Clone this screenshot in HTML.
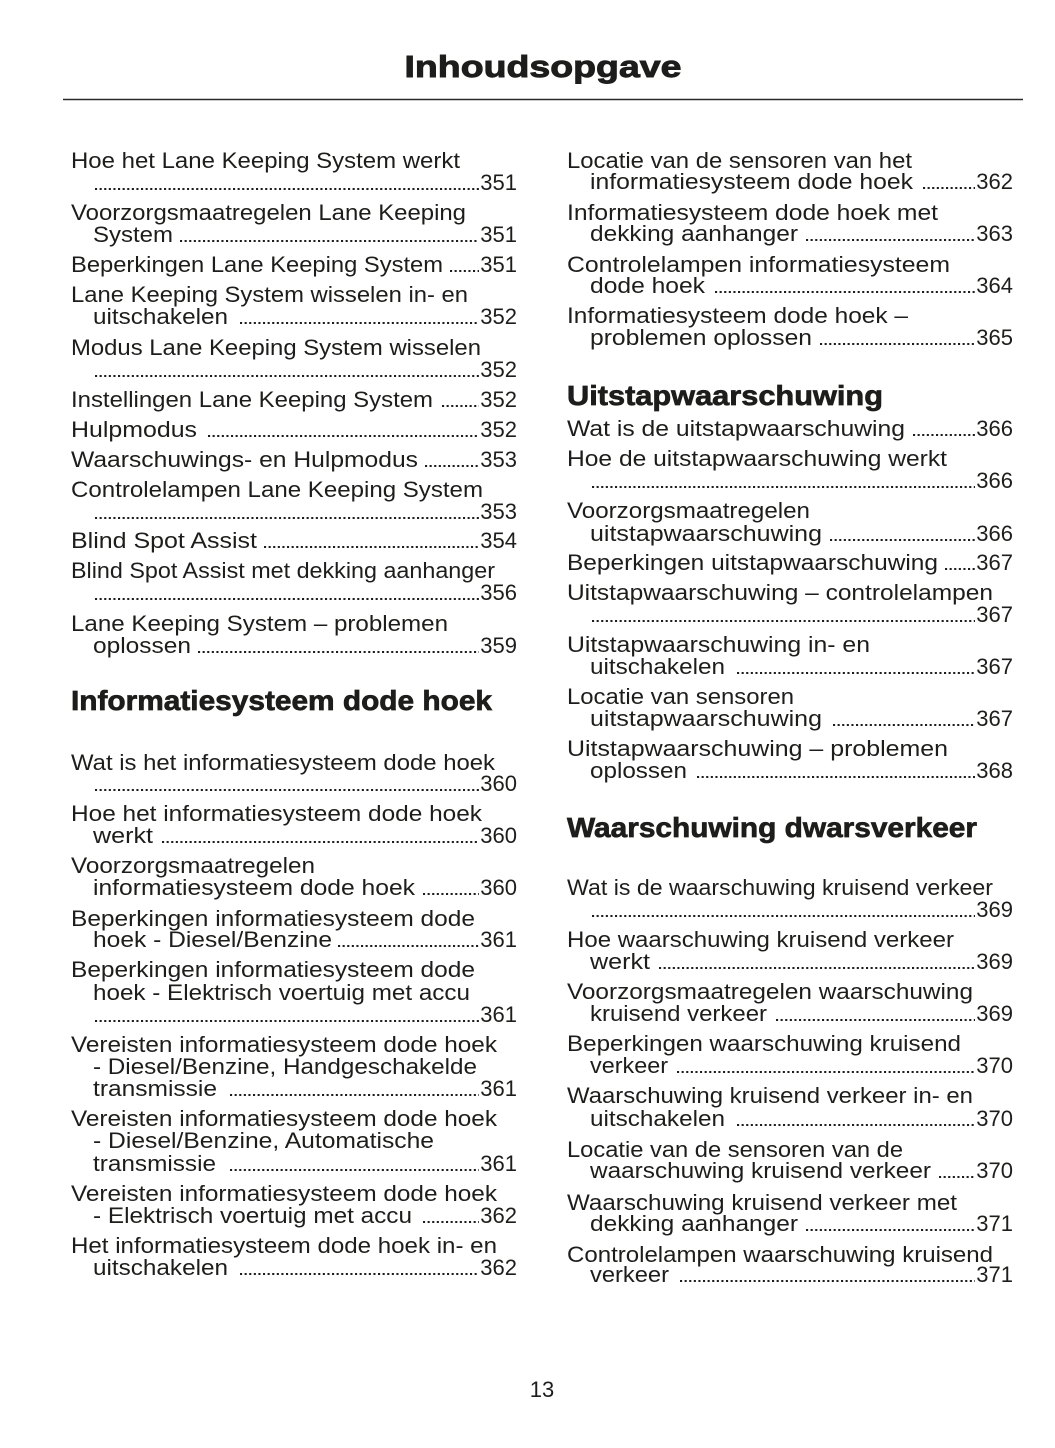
<!DOCTYPE html>
<html>
<head>
<meta charset="utf-8">
<style>
html,body{margin:0;padding:0;background:#fff;}
svg{display:block;}
text{font-family:"Liberation Sans",sans-serif;fill:#1d1d1b;}
.t{font-size:22px;}
.n{font-size:22px;text-anchor:end;}
.h{font-size:28px;font-weight:bold;stroke:#1d1d1b;stroke-width:0.7px;}
.d{stroke:#1d1d1b;stroke-width:2.1;stroke-dasharray:2.1 2.5;}
</style>
</head>
<body>
<svg width="1055" height="1448" viewBox="0 0 1055 1448" xmlns="http://www.w3.org/2000/svg">
<text x="543" y="77" text-anchor="middle" textLength="277" lengthAdjust="spacingAndGlyphs" style="font-size:31px;font-weight:bold;stroke:#1d1d1b;stroke-width:0.9px;">Inhoudsopgave</text>
<line x1="63" y1="99.5" x2="1023" y2="99.5" stroke="#2a2a2a" stroke-width="1.6"/>

<!-- LEFT COLUMN -->
<text class="t" x="71" y="168" textLength="389" lengthAdjust="spacingAndGlyphs">Hoe het Lane Keeping System werkt</text>
<line class="d" x1="95" y1="189" x2="479" y2="189"/><text class="n" x="517" y="190">351</text>

<text class="t" x="71" y="220" textLength="395" lengthAdjust="spacingAndGlyphs">Voorzorgsmaatregelen Lane Keeping</text>
<text class="t" x="93" y="242" textLength="80" lengthAdjust="spacingAndGlyphs">System</text>
<line class="d" x1="180" y1="241" x2="479" y2="241"/><text class="n" x="517" y="242">351</text>

<text class="t" x="71" y="272" textLength="372" lengthAdjust="spacingAndGlyphs">Beperkingen Lane Keeping System</text>
<line class="d" x1="450" y1="271" x2="479" y2="271"/><text class="n" x="517" y="272">351</text>

<text class="t" x="71" y="302" textLength="397" lengthAdjust="spacingAndGlyphs">Lane Keeping System wisselen in- en</text>
<text class="t" x="93" y="324" textLength="135" lengthAdjust="spacingAndGlyphs">uitschakelen</text>
<line class="d" x1="240" y1="323" x2="479" y2="323"/><text class="n" x="517" y="324">352</text>

<text class="t" x="71" y="355" textLength="410" lengthAdjust="spacingAndGlyphs">Modus Lane Keeping System wisselen</text>
<line class="d" x1="95" y1="376" x2="479" y2="376"/><text class="n" x="517" y="377">352</text>

<text class="t" x="71" y="407" textLength="362" lengthAdjust="spacingAndGlyphs">Instellingen Lane Keeping System</text>
<line class="d" x1="442" y1="406" x2="479" y2="406"/><text class="n" x="517" y="407">352</text>

<text class="t" x="71" y="437" textLength="126" lengthAdjust="spacingAndGlyphs">Hulpmodus</text>
<line class="d" x1="208" y1="436" x2="479" y2="436"/><text class="n" x="517" y="437">352</text>

<text class="t" x="71" y="467" textLength="347" lengthAdjust="spacingAndGlyphs">Waarschuwings- en Hulpmodus</text>
<line class="d" x1="425" y1="466" x2="479" y2="466"/><text class="n" x="517" y="467">353</text>

<text class="t" x="71" y="497" textLength="412" lengthAdjust="spacingAndGlyphs">Controlelampen Lane Keeping System</text>
<line class="d" x1="95" y1="518" x2="479" y2="518"/><text class="n" x="517" y="519">353</text>

<text class="t" x="71" y="548" textLength="186" lengthAdjust="spacingAndGlyphs">Blind Spot Assist</text>
<line class="d" x1="264" y1="547" x2="479" y2="547"/><text class="n" x="517" y="548">354</text>

<text class="t" x="71" y="578" textLength="424" lengthAdjust="spacingAndGlyphs">Blind Spot Assist met dekking aanhanger</text>
<line class="d" x1="95" y1="599" x2="479" y2="599"/><text class="n" x="517" y="600">356</text>

<text class="t" x="71" y="631" textLength="377" lengthAdjust="spacingAndGlyphs">Lane Keeping System – problemen</text>
<text class="t" x="93" y="653" textLength="98" lengthAdjust="spacingAndGlyphs">oplossen</text>
<line class="d" x1="198" y1="652" x2="479" y2="652"/><text class="n" x="517" y="653">359</text>

<text class="h" x="71" y="710" textLength="421" lengthAdjust="spacingAndGlyphs">Informatiesysteem dode hoek</text>

<text class="t" x="71" y="770" textLength="424" lengthAdjust="spacingAndGlyphs">Wat is het informatiesysteem dode hoek</text>
<line class="d" x1="95" y1="790" x2="479" y2="790"/><text class="n" x="517" y="791">360</text>

<text class="t" x="71" y="821" textLength="411" lengthAdjust="spacingAndGlyphs">Hoe het informatiesysteem dode hoek</text>
<text class="t" x="93" y="843" textLength="60" lengthAdjust="spacingAndGlyphs">werkt</text>
<line class="d" x1="162" y1="842" x2="479" y2="842"/><text class="n" x="517" y="843">360</text>

<text class="t" x="71" y="873" textLength="244" lengthAdjust="spacingAndGlyphs">Voorzorgsmaatregelen</text>
<text class="t" x="93" y="895" textLength="322" lengthAdjust="spacingAndGlyphs">informatiesysteem dode hoek</text>
<line class="d" x1="423" y1="894" x2="479" y2="894"/><text class="n" x="517" y="895">360</text>

<text class="t" x="71" y="926" textLength="404" lengthAdjust="spacingAndGlyphs">Beperkingen informatiesysteem dode</text>
<text class="t" x="93" y="947" textLength="239" lengthAdjust="spacingAndGlyphs">hoek - Diesel/Benzine</text>
<line class="d" x1="338" y1="946" x2="479" y2="946"/><text class="n" x="517" y="947">361</text>

<text class="t" x="71" y="977" textLength="404" lengthAdjust="spacingAndGlyphs">Beperkingen informatiesysteem dode</text>
<text class="t" x="93" y="1000" textLength="377" lengthAdjust="spacingAndGlyphs">hoek - Elektrisch voertuig met accu</text>
<line class="d" x1="95" y1="1021" x2="479" y2="1021"/><text class="n" x="517" y="1022">361</text>

<text class="t" x="71" y="1052" textLength="426" lengthAdjust="spacingAndGlyphs">Vereisten informatiesysteem dode hoek</text>
<text class="t" x="93" y="1074" textLength="384" lengthAdjust="spacingAndGlyphs">- Diesel/Benzine, Handgeschakelde</text>
<text class="t" x="93" y="1096" textLength="124" lengthAdjust="spacingAndGlyphs">transmissie</text>
<line class="d" x1="230" y1="1095" x2="479" y2="1095"/><text class="n" x="517" y="1096">361</text>

<text class="t" x="71" y="1126" textLength="426" lengthAdjust="spacingAndGlyphs">Vereisten informatiesysteem dode hoek</text>
<text class="t" x="93" y="1148" textLength="341" lengthAdjust="spacingAndGlyphs">- Diesel/Benzine, Automatische</text>
<text class="t" x="93" y="1171" textLength="123" lengthAdjust="spacingAndGlyphs">transmissie</text>
<line class="d" x1="230" y1="1170" x2="479" y2="1170"/><text class="n" x="517" y="1171">361</text>

<text class="t" x="71" y="1201" textLength="426" lengthAdjust="spacingAndGlyphs">Vereisten informatiesysteem dode hoek</text>
<text class="t" x="93" y="1223" textLength="319" lengthAdjust="spacingAndGlyphs">- Elektrisch voertuig met accu</text>
<line class="d" x1="423" y1="1222" x2="479" y2="1222"/><text class="n" x="517" y="1223">362</text>

<text class="t" x="71" y="1253" textLength="426" lengthAdjust="spacingAndGlyphs">Het informatiesysteem dode hoek in- en</text>
<text class="t" x="93" y="1275" textLength="135" lengthAdjust="spacingAndGlyphs">uitschakelen</text>
<line class="d" x1="240" y1="1274" x2="479" y2="1274"/><text class="n" x="517" y="1275">362</text>

<!-- RIGHT COLUMN -->
<text class="t" x="567" y="168" textLength="345" lengthAdjust="spacingAndGlyphs">Locatie van de sensoren van het</text>
<text class="t" x="590" y="189" textLength="323" lengthAdjust="spacingAndGlyphs">informatiesysteem dode hoek</text>
<line class="d" x1="923" y1="188" x2="975" y2="188"/><text class="n" x="1013" y="189">362</text>

<text class="t" x="567" y="220" textLength="371" lengthAdjust="spacingAndGlyphs">Informatiesysteem dode hoek met</text>
<text class="t" x="590" y="241" textLength="208" lengthAdjust="spacingAndGlyphs">dekking aanhanger</text>
<line class="d" x1="806" y1="240" x2="975" y2="240"/><text class="n" x="1013" y="241">363</text>

<text class="t" x="567" y="272" textLength="383" lengthAdjust="spacingAndGlyphs">Controlelampen informatiesysteem</text>
<text class="t" x="590" y="293" textLength="115" lengthAdjust="spacingAndGlyphs">dode hoek</text>
<line class="d" x1="715" y1="292" x2="975" y2="292"/><text class="n" x="1013" y="293">364</text>

<text class="t" x="567" y="323" textLength="341" lengthAdjust="spacingAndGlyphs">Informatiesysteem dode hoek –</text>
<text class="t" x="590" y="345" textLength="222" lengthAdjust="spacingAndGlyphs">problemen oplossen</text>
<line class="d" x1="820" y1="344" x2="975" y2="344"/><text class="n" x="1013" y="345">365</text>

<text class="h" x="567" y="405" textLength="316" lengthAdjust="spacingAndGlyphs">Uitstapwaarschuwing</text>

<text class="t" x="567" y="436" textLength="338" lengthAdjust="spacingAndGlyphs">Wat is de uitstapwaarschuwing</text>
<line class="d" x1="913" y1="435" x2="975" y2="435"/><text class="n" x="1013" y="436">366</text>

<text class="t" x="567" y="466" textLength="380" lengthAdjust="spacingAndGlyphs">Hoe de uitstapwaarschuwing werkt</text>
<line class="d" x1="592" y1="487" x2="975" y2="487"/><text class="n" x="1013" y="488">366</text>

<text class="t" x="567" y="518" textLength="243" lengthAdjust="spacingAndGlyphs">Voorzorgsmaatregelen</text>
<text class="t" x="590" y="541" textLength="232" lengthAdjust="spacingAndGlyphs">uitstapwaarschuwing</text>
<line class="d" x1="830" y1="540" x2="975" y2="540"/><text class="n" x="1013" y="541">366</text>

<text class="t" x="567" y="570" textLength="371" lengthAdjust="spacingAndGlyphs">Beperkingen uitstapwaarschuwing</text>
<line class="d" x1="945" y1="569" x2="975" y2="569"/><text class="n" x="1013" y="570">367</text>

<text class="t" x="567" y="600" textLength="426" lengthAdjust="spacingAndGlyphs">Uitstapwaarschuwing – controlelampen</text>
<line class="d" x1="592" y1="621" x2="975" y2="621"/><text class="n" x="1013" y="622">367</text>

<text class="t" x="567" y="652" textLength="303" lengthAdjust="spacingAndGlyphs">Uitstapwaarschuwing in- en</text>
<text class="t" x="590" y="674" textLength="135" lengthAdjust="spacingAndGlyphs">uitschakelen</text>
<line class="d" x1="737" y1="673" x2="975" y2="673"/><text class="n" x="1013" y="674">367</text>

<text class="t" x="567" y="704" textLength="227" lengthAdjust="spacingAndGlyphs">Locatie van sensoren</text>
<text class="t" x="590" y="726" textLength="232" lengthAdjust="spacingAndGlyphs">uitstapwaarschuwing</text>
<line class="d" x1="833" y1="725" x2="975" y2="725"/><text class="n" x="1013" y="726">367</text>

<text class="t" x="567" y="756" textLength="381" lengthAdjust="spacingAndGlyphs">Uitstapwaarschuwing – problemen</text>
<text class="t" x="590" y="778" textLength="97" lengthAdjust="spacingAndGlyphs">oplossen</text>
<line class="d" x1="697" y1="777" x2="975" y2="777"/><text class="n" x="1013" y="778">368</text>

<text class="h" x="567" y="837" textLength="410" lengthAdjust="spacingAndGlyphs">Waarschuwing dwarsverkeer</text>

<text class="t" x="567" y="895" textLength="426" lengthAdjust="spacingAndGlyphs">Wat is de waarschuwing kruisend verkeer</text>
<line class="d" x1="592" y1="916" x2="975" y2="916"/><text class="n" x="1013" y="917">369</text>

<text class="t" x="567" y="947" textLength="387" lengthAdjust="spacingAndGlyphs">Hoe waarschuwing kruisend verkeer</text>
<text class="t" x="590" y="969" textLength="60" lengthAdjust="spacingAndGlyphs">werkt</text>
<line class="d" x1="659" y1="968" x2="975" y2="968"/><text class="n" x="1013" y="969">369</text>

<text class="t" x="567" y="999" textLength="406" lengthAdjust="spacingAndGlyphs">Voorzorgsmaatregelen waarschuwing</text>
<text class="t" x="590" y="1021" textLength="177" lengthAdjust="spacingAndGlyphs">kruisend verkeer</text>
<line class="d" x1="776" y1="1020" x2="975" y2="1020"/><text class="n" x="1013" y="1021">369</text>

<text class="t" x="567" y="1051" textLength="394" lengthAdjust="spacingAndGlyphs">Beperkingen waarschuwing kruisend</text>
<text class="t" x="590" y="1073" textLength="78" lengthAdjust="spacingAndGlyphs">verkeer</text>
<line class="d" x1="677" y1="1072" x2="975" y2="1072"/><text class="n" x="1013" y="1073">370</text>

<text class="t" x="567" y="1103" textLength="406" lengthAdjust="spacingAndGlyphs">Waarschuwing kruisend verkeer in- en</text>
<text class="t" x="590" y="1126" textLength="135" lengthAdjust="spacingAndGlyphs">uitschakelen</text>
<line class="d" x1="737" y1="1125" x2="975" y2="1125"/><text class="n" x="1013" y="1126">370</text>

<text class="t" x="567" y="1157" textLength="336" lengthAdjust="spacingAndGlyphs">Locatie van de sensoren van de</text>
<text class="t" x="590" y="1178" textLength="341" lengthAdjust="spacingAndGlyphs">waarschuwing kruisend verkeer</text>
<line class="d" x1="939" y1="1177" x2="975" y2="1177"/><text class="n" x="1013" y="1178">370</text>

<text class="t" x="567" y="1210" textLength="390" lengthAdjust="spacingAndGlyphs">Waarschuwing kruisend verkeer met</text>
<text class="t" x="590" y="1231" textLength="208" lengthAdjust="spacingAndGlyphs">dekking aanhanger</text>
<line class="d" x1="806" y1="1230" x2="975" y2="1230"/><text class="n" x="1013" y="1231">371</text>

<text class="t" x="567" y="1262" textLength="426" lengthAdjust="spacingAndGlyphs">Controlelampen waarschuwing kruisend</text>
<text class="t" x="590" y="1282" textLength="79" lengthAdjust="spacingAndGlyphs">verkeer</text>
<line class="d" x1="680" y1="1281" x2="975" y2="1281"/><text class="n" x="1013" y="1282">371</text>

<text x="542" y="1397" text-anchor="middle" style="font-size:22px;">13</text>
</svg>
</body>
</html>
